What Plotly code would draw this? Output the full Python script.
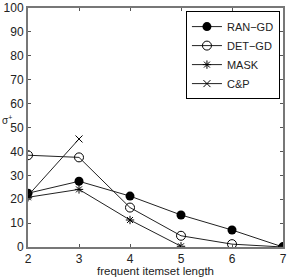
import plotly.graph_objects as go

x_ran = [2, 3, 4, 5, 6, 7]
ran_gd = [22.5, 27.5, 21.3, 13.4, 7.1, 0]
x_det = [2, 3, 4, 5, 6, 7]
det_gd = [38.4, 37.5, 16.5, 4.7, 1.2, 0]
x_mask = [2, 3, 4, 5]
mask = [20.8, 24.1, 11.3, 0.3]
x_cp = [2, 3]
cp = [21.5, 45.2]

x_ticks = [2, 3, 4, 5, 6, 7]
y_ticks = [0, 10, 20, 30, 40, 50, 60, 70, 80, 90, 100]

FONT = "Liberation Sans Narrow, Liberation Sans, Arial, sans-serif"
LC = "#222222"

fig = go.Figure()
fig.add_trace(go.Scatter(x=x_ran, y=ran_gd, name="RAN\u2212GD", mode="lines+markers",
                         line=dict(color=LC, width=1),
                         marker=dict(symbol="circle", size=9, color="black")))
fig.add_trace(go.Scatter(x=x_det, y=det_gd, name="DET\u2212GD", mode="lines+markers",
                         line=dict(color=LC, width=1),
                         marker=dict(symbol="circle-open", size=9, color="black", line=dict(width=1))))
fig.add_trace(go.Scatter(x=x_mask, y=mask, name="MASK", mode="lines+markers",
                         line=dict(color=LC, width=1),
                         marker=dict(symbol="asterisk-open", size=7, color="black", line=dict(width=1))))
fig.add_trace(go.Scatter(x=x_cp, y=cp, name="C&P", mode="lines+markers",
                         line=dict(color=LC, width=1),
                         marker=dict(symbol="x-thin-open", size=7, color="black", line=dict(width=1))))

axis_common = dict(showgrid=False, zeroline=False, showline=True, mirror="ticks",
                   linecolor="#777777", linewidth=2, ticks="inside", ticklen=3,
                   tickcolor="#555555", automargin=False,
                   tickfont=dict(family=FONT, size=12, color="#222222"))

fig.update_xaxes(range=[2, 7], tickvals=x_ticks, **axis_common)
fig.update_yaxes(range=[0, 100], tickvals=y_ticks, **axis_common)

fig.add_annotation(text="frequent itemset length", xref="paper", yref="paper",
                   x=0.5, y=-0.1, showarrow=False, xanchor="center", yanchor="middle",
                   font=dict(family=FONT, size=11.5, color="#222222"))
fig.add_annotation(text="\u03c3<sup>+</sup>", xref="paper", yref="paper",
                   x=-0.11, y=0.53, showarrow=False, xanchor="left", yanchor="middle",
                   font=dict(family=FONT, size=10, color="#222222"))

fig.update_layout(
    width=291, height=277,
    margin=dict(l=28, r=8, t=8, b=30),
    paper_bgcolor="white", plot_bgcolor="white",
    showlegend=True,
    legend=dict(x=0.988, y=0.987, xanchor="right", yanchor="top",
                bordercolor="black", borderwidth=1, bgcolor="white",
                font=dict(family=FONT, size=11, color="#222222"),
                tracegroupgap=0, itemwidth=30),
)
fig.write_html("out.html", config={"displayModeBar": False},
               post_script="document.body.style.margin='0';")
